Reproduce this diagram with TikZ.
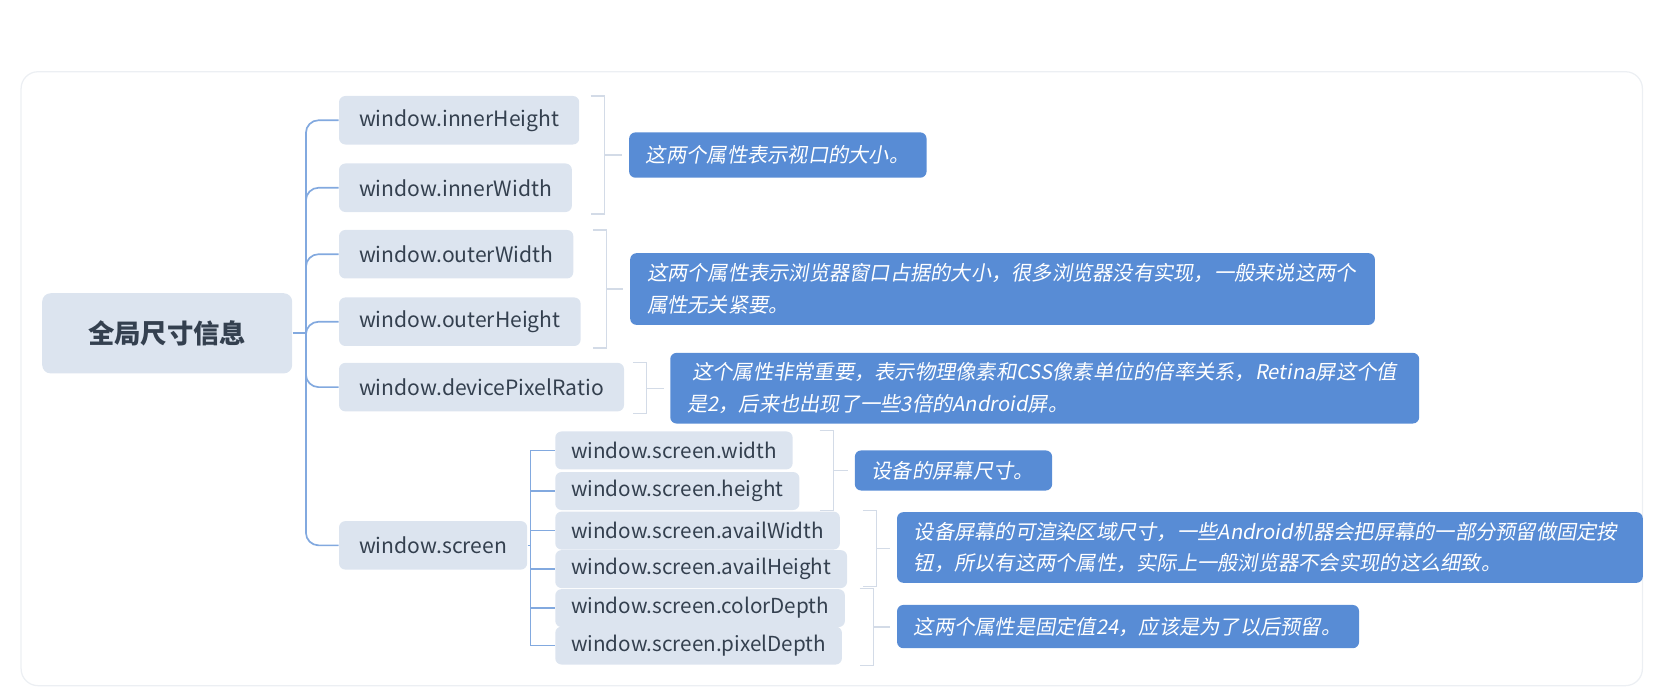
\documentclass[tikz,border=0pt]{standalone}
\usepackage{fontspec}
\setmainfont{Noto Sans CJK SC}
\newfontfamily\slcjk[FakeSlant=0.18]{Noto Sans CJK SC}
\definecolor{lvfill}{HTML}{DCE4EF}
\definecolor{lvtext}{HTML}{34404F}
\definecolor{sumfill}{HTML}{588CD5}
\definecolor{conn}{HTML}{82A9DF}
\definecolor{brk}{HTML}{D3DBE7}
\definecolor{panel}{HTML}{ECEFF3}
\begin{document}
\begin{tikzpicture}[x=0.5pt,y=-0.5pt,
 lvbox/.style={fill=lvfill, rounded corners=3pt, text=lvtext, font=\fontsize{10}{12}\selectfont, anchor=west, inner xsep=9.5pt, inner ysep=0pt, minimum height=23pt},
 subbox/.style={lvbox, font=\fontsize{9.8}{12}\selectfont, minimum height=18pt, inner xsep=7.5pt},
 sumbox/.style={fill=sumfill, rounded corners=3pt, text=white, font=\slcjk\fontsize{9.6}{15}\selectfont, anchor=west, align=left, inner xsep=8pt, inner ysep=3pt},
 conline/.style={draw=conn, line width=0.8pt},
 brline/.style={draw=brk, line width=0.6pt}]
\useasboundingbox (0,0) rectangle (1568,657);
\draw[panel, line width=0.6pt, rounded corners=8pt] (20,68) rectangle (1557,650);

% root
\node[fill=lvfill, rounded corners=4pt, minimum width=118.5pt, minimum height=38pt, text=lvtext, font=\bfseries\fontsize{12.5}{15}\selectfont] (root) at (158.5,316) {全局尺寸信息};

% level 1
\node[lvbox] (n1) at (321,114) {window.innerHeight};
\node[lvbox] (n2) at (321,178) {window.innerWidth};
\node[lvbox] (n3) at (321,241) {window.outerWidth};
\node[lvbox] (n4) at (321,305) {window.outerHeight};
\node[lvbox] (n5) at (321,367) {window.devicePixelRatio};
\node[lvbox] (n6) at (321,517) {window.screen};

% screen children
\node[subbox] (m1) at (526,427) {window.screen.width};
\node[subbox] (m2) at (526,465.5) {window.screen.height};
\node[subbox] (m3) at (526,503) {window.screen.availWidth};
\node[subbox] (m4) at (526,539.5) {window.screen.availHeight};
\node[subbox] (m5) at (526,576.5) {window.screen.colorDepth};
\node[subbox] (m6) at (526,612) {window.screen.pixelDepth};

% connectors
\coordinate (rj) at (290,316);
\draw[conline] (root.east) -- (rj);
\foreach \n in {n1,n2,n3,n4,n5,n6}
  \draw[conline, rounded corners=6pt] (rj) |- (\n.west);
\coordinate (sj) at (503,517);
\draw[conline] (n6.east) -- (sj);
\foreach \m in {m1,m2,m3,m4,m5,m6}
  \draw[conline] (sj) |- (\m.west);

% summaries
\node[sumbox, text width=125pt, minimum height=21.5pt] (s1) at (596,147) {这两个属性表示视口的大小。};
\node[sumbox, text width=337pt, minimum height=34pt] (s2) at (597,274) {这两个属性表示浏览器窗口占据的大小，很多浏览器没有实现，一般来说这两个\\属性无关紧要。};
\node[sumbox, text width=339pt, minimum height=33.5pt] (s3) at (635,368) {\hspace{2.5pt}这个属性非常重要，表示物理像素和CSS像素单位的倍率关系，Retina屏这个值\\是2，后来也出现了一些3倍的Android屏。};
\node[sumbox, text width=77.5pt, minimum height=19pt] (s4) at (810,446) {设备的屏幕尺寸。};
\node[sumbox, text width=337.5pt, minimum height=33.5pt] (s5) at (850,519) {设备屏幕的可渲染区域尺寸，一些Android机器会把屏幕的一部分预留做固定按\\钮，所以有这两个属性，实际上一般浏览器不会实现的这么细致。};
\node[sumbox, text width=203pt, minimum height=20.5pt] (s6) at (850,594) {这两个属性是固定值24，应该是为了以后预留。};

% brackets
\foreach \xa/\xb/\ya/\yb/\s in {560/573/91/203/s1, 562/575/218/330/s2, 600/613/344/392/s3, 777/790/408/484/s4, 818/831/484/556/s5, 815/828/558/631/s6}{
  \draw[brline] (\xa,\ya) -- (\xb,\ya) -- (\xb,\yb) -- (\xa,\yb);
  \coordinate (bm) at (\xb,{(\ya+\yb)/2});
  \draw[brline, shorten >=3pt] (bm) -- (bm -| \s.west);
}
\end{tikzpicture}
\end{document}
